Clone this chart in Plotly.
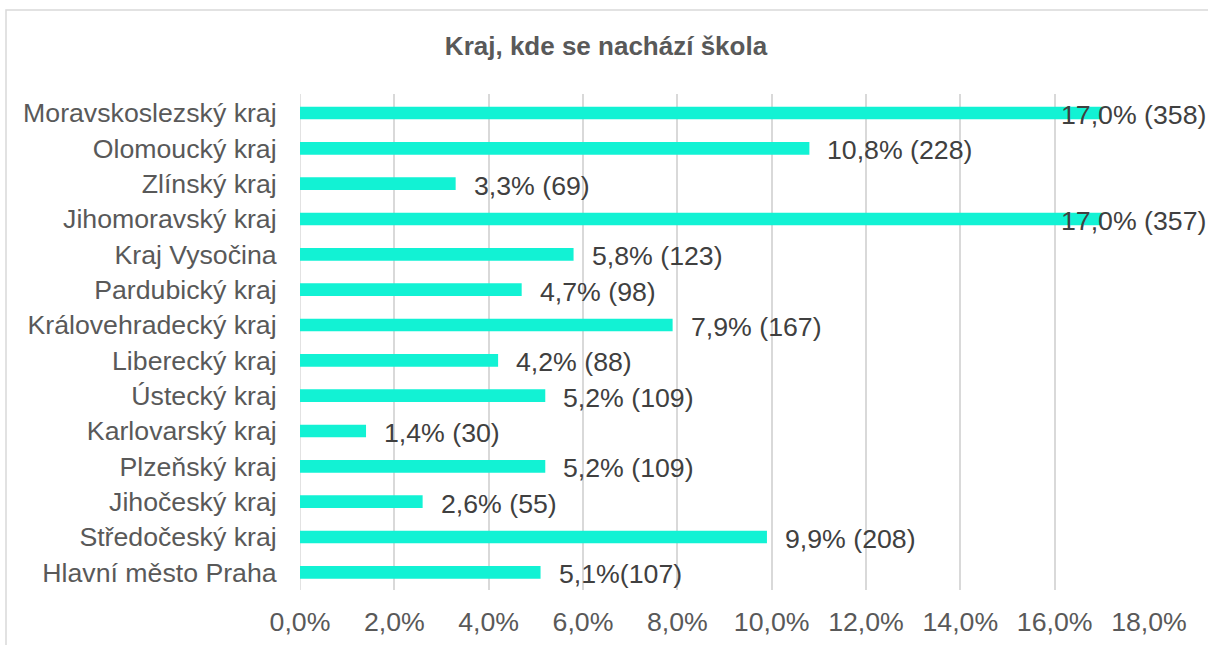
import plotly.graph_objects as go

categories = [
    "Moravskoslezský kraj", "Olomoucký kraj", "Zlínský kraj", "Jihomoravský kraj",
    "Kraj Vysočina", "Pardubický kraj", "Královehradecký kraj", "Liberecký kraj",
    "Ústecký kraj", "Karlovarský kraj", "Plzeňský kraj", "Jihočeský kraj",
    "Středočeský kraj", "Hlavní město Praha",
]
percents = [17.0, 10.8, 3.3, 17.0, 5.8, 4.7, 7.9, 4.2, 5.2, 1.4, 5.2, 2.6, 9.9, 5.1]
counts = [358, 228, 69, 357, 123, 98, 167, 88, 109, 30, 109, 55, 208, 107]
value_labels = [
    "17,0% (358)", "10,8% (228)", "3,3% (69)", "17,0% (357)", "5,8% (123)",
    "4,7% (98)", "7,9% (167)", "4,2% (88)", "5,2% (109)", "1,4% (30)",
    "5,2% (109)", "2,6% (55)", "9,9% (208)", "5,1%(107)",
]
tick_vals = [0, 2, 4, 6, 8, 10, 12, 14, 16, 18]
tick_text = ["0,0%", "2,0%", "4,0%", "6,0%", "8,0%", "10,0%", "12,0%", "14,0%", "16,0%", "18,0%"]

FONT = "Liberation Sans, Arial, sans-serif"
FS = 26.7

fig = go.Figure(
    go.Bar(
        x=percents,
        y=categories,
        orientation="h",
        marker=dict(color="#12F2D4", line=dict(width=0)),
        width=0.36,
        hoverinfo="skip",
    )
)

annotations = []
for cat, v, lab in zip(categories, percents, value_labels):
    if v > 16:
        annotations.append(dict(x=v, y=cat, xref="x", yref="y", text=lab, showarrow=False,
                                xanchor="right", xshift=106, yshift=-2,
                                font=dict(family=FONT, size=FS, color="#404040")))
    else:
        annotations.append(dict(x=v, y=cat, xref="x", yref="y", text=lab, showarrow=False,
                                xanchor="left", xshift=16, yshift=-2,
                                font=dict(family=FONT, size=FS, color="#404040")))

fig.update_layout(
    width=1208,
    height=645,
    margin=dict(l=300, r=59, t=94, b=55, autoexpand=False),
    paper_bgcolor="white",
    plot_bgcolor="white",
    showlegend=False,
    title=dict(
        text="<b>Kraj, kde se nachází škola</b>",
        x=606 / 1208, xref="container", xanchor="center",
        y=1 - 46 / 645, yref="container", yanchor="middle",
        font=dict(family=FONT, size=26, color="#595959"),
    ),
    xaxis=dict(
        range=[0, 18],
        tickvals=tick_vals,
        ticktext=tick_text,
        showgrid=True,
        gridcolor="#D9D9D9",
        gridwidth=1.5,
        zeroline=False,
        showline=False,
        ticks="outside",
        ticklen=8,
        tickcolor="rgba(0,0,0,0)",
        tickfont=dict(family=FONT, size=FS, color="#595959"),
        fixedrange=True,
    ),
    yaxis=dict(
        autorange="reversed",
        showgrid=False,
        zeroline=False,
        showline=False,
        ticks="outside",
        ticklen=17,
        tickcolor="rgba(0,0,0,0)",
        tickfont=dict(family=FONT, size=FS, color="#595959"),
        fixedrange=True,
    ),
    annotations=annotations,
    shapes=[
        dict(type="line", xref="x", yref="paper", x0=0, x1=0, y0=0, y1=1,
             line=dict(color="#D9D9D9", width=1.5), layer="below"),
        dict(type="rect", xref="paper", yref="paper",
             x0=(6 - 300) / 849, x1=(1220 - 300) / 849,
             y0=(590 - 670) / 496, y1=1 + (94 - 10) / 496,
             line=dict(color="#D9D9D9", width=1.5), fillcolor="rgba(0,0,0,0)", layer="below"),
    ],
)

fig.write_html(
    "out.html",
    config={"displayModeBar": False},
    post_script="document.body.style.margin='0';document.body.style.overflow='hidden';",
)
